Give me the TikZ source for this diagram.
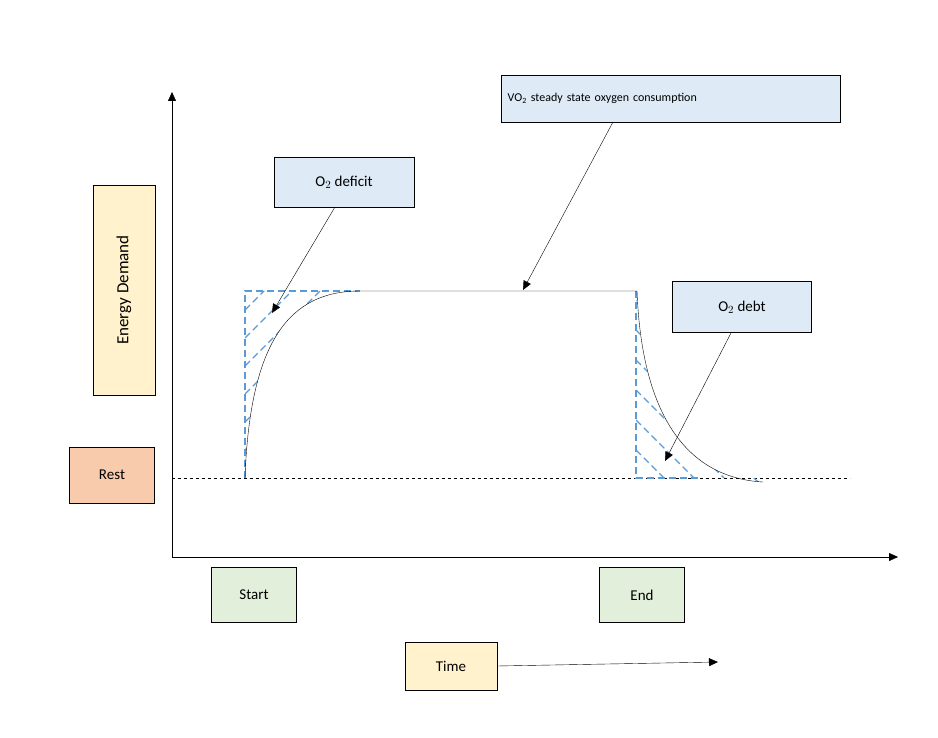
\documentclass[tikz,border=0pt]{standalone}
\usepackage{fontspec}
\setmainfont{Carlito}
\usetikzlibrary{arrows.meta}
\definecolor{yel}{HTML}{FFF2CC}
\definecolor{rest}{HTML}{F8CBAD}
\definecolor{grn}{HTML}{E2EFDA}
\definecolor{blu}{HTML}{DEEBF7}
\definecolor{hatch}{HTML}{5B9BD5}
\tikzset{>={Triangle[length=9pt,width=8pt]},
lbl/.style={draw, font=\fontsize{15}{18}\selectfont},
hat/.style={hatch, dash pattern=on 7pt off 4pt, line width=1.2pt},
}
\begin{document}
\begin{tikzpicture}[x=1pt,y=-1pt]
    \useasboundingbox (0,0) rectangle (938,738);
        % boxes
        \node[lbl, fill=yel, minimum width=62, minimum height=210] (ed) at (124,290) {};
        \node[rotate=90, font=\fontsize{17}{20}\selectfont] at (ed) {Energy Demand};
        \node[lbl, fill=rest, minimum width=85, minimum height=56] (rest) at (112,475) {Rest};
        \node[lbl, fill=grn, minimum width=85, minimum height=55] (start) at (254,595) {Start};
        \node[lbl, fill=grn, minimum width=85, minimum height=55] (end) at (642,595) {End};
        \node[lbl, fill=yel, minimum width=92, minimum height=48] (time) at (451,666) {Time};
        \node[lbl, fill=blu, minimum width=140, minimum height=50] (def) at (344,182) {O$_2$ deficit};
        \node[lbl, fill=blu, minimum width=339, minimum height=47, font=\fontsize{12}{14}\selectfont, anchor=north west, align=left, inner sep=6pt, text width=326] (vo) at (501,75) {VO\textsubscript{2} steady state oxygen consumption\\[10pt]};
        \node[lbl, fill=blu, minimum width=139, minimum height=51] (debt) at (742,307) {O$_2$ debt};
        % axes
        \coordinate (o) at (172,557);
        \coordinate (ytop) at (172,92);
        \coordinate (xend) at (898,557);
        \draw[->] (o) -- (ytop);
        \draw[->] (o) -- (xend);
        \draw[->] (time.east) -- (718,662);
        \draw[dashed, line width=0.9pt] (172,478) -- (850,478);
        % hatching
        \begin{scope}
            \clip (245,478) -- (245,291) -- (360,291) .. controls (290,291) and (250,340) .. (245,478) -- cycle;
            \foreach \k in {0,28,...,280}
                \draw[hat] (245,478-\k) -- (445,278-\k);
        \end{scope}
        \begin{scope}
            \clip (636,478) -- (636,291) .. controls (642,420) and (690,478) .. (763,482) -- (763,478) -- cycle;
            \foreach \k in {-60,-30,...,300}
                \draw[hat] (636,300+\k) -- (836,500+\k);
        \end{scope}
        \draw[hat] (245,478) -- (245,291) -- (360,291);
        \draw[hat] (636,291) -- (636,478) -- (700,478);
        % curve
        \draw (245,478) .. controls (250,340) and (290,291) .. (360,291) -- (637,291)
              .. controls (642,420) and (690,478) .. (763,482);
        % callouts
        \draw[->] (335,207) -- (272,313);
        \draw[->] (613,122) -- (523,290);
        \draw[->] (731,333) -- (665,461);
\end{tikzpicture}
\end{document}
